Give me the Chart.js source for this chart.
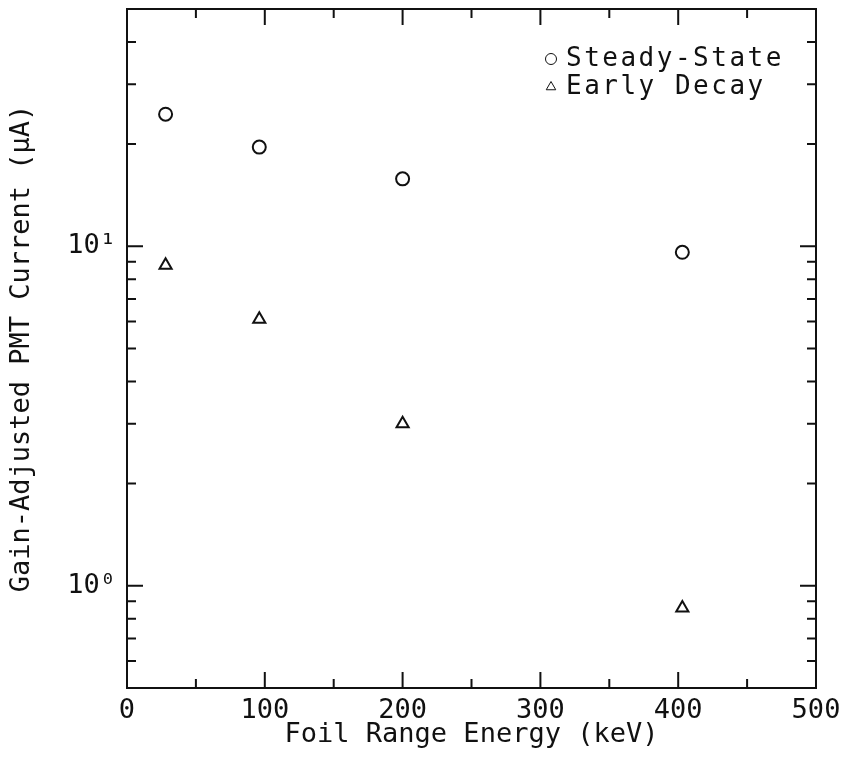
<!DOCTYPE html>
<html>
<head>
<meta charset="utf-8">
<script src="https://cdn.jsdelivr.net/npm/chart.js@4.4.0/dist/chart.umd.min.js"></script>
<style>
  html, body { margin: 0; padding: 0; background: #fff; }
  .chart-box { width: 842px; height: 761px; position: relative; }
</style>
</head>
<body>
<div class="chart-box">
  <canvas id="pmt-chart"></canvas>
</div>
<script>
// values
const energies = [28, 96, 200, 403];
const steadyState = [24.5, 19.6, 15.8, 9.6];
const earlyDecay = [8.8, 6.1, 3.0, 0.86];
const xTickValues = [0, 100, 200, 300, 400, 500];
const yTickValues = [1, 10];
const yTickLabels = ['10\u2070', '10\u00b9'];

const FONT = '"DejaVu Sans Mono", "Liberation Mono", monospace';
const INK = '#111';

const toPoints = (ys) => energies.map((x, i) => ({x: x, y: ys[i]}));

// frame with inward ticks on all four sides, like the original plot
const frameTicks = {
  id: 'frameTicks',
  afterDatasetsDraw(chart) {
    const {ctx, chartArea: a} = chart;
    const xs = chart.scales.x, ys = chart.scales.y;
    const major = 16, minor = 9;
    ctx.save();
    ctx.strokeStyle = INK;
    ctx.lineWidth = 2;
    ctx.strokeRect(a.left, a.top, a.right - a.left, a.bottom - a.top);

    const vTick = (v, len) => {
      const px = xs.getPixelForValue(v);
      ctx.moveTo(px, a.bottom); ctx.lineTo(px, a.bottom - len);
      ctx.moveTo(px, a.top); ctx.lineTo(px, a.top + len);
    };
    const hTick = (v, len) => {
      const py = ys.getPixelForValue(v);
      ctx.moveTo(a.left, py); ctx.lineTo(a.left + len, py);
      ctx.moveTo(a.right, py); ctx.lineTo(a.right - len, py);
    };

    ctx.beginPath();
    xTickValues.forEach((v, i) => {
      vTick(v, major);
      if (i > 0) vTick((v + xTickValues[i - 1]) / 2, minor);
    });
    for (let e = -1; e <= 1; e++) {
      for (let m = 1; m <= 9; m++) {
        const v = m * Math.pow(10, e);
        if (v <= ys.min || v >= ys.max) continue;
        hTick(v, m === 1 ? major : minor);
      }
    }
    ctx.stroke();
    ctx.restore();
  }
};

// legend drawn inside the top-right corner of the frame
const innerLegend = {
  id: 'innerLegend',
  afterDraw(chart) {
    const ctx = chart.ctx;
    const markerX = 551, textX = 566, rowY = 59, rowGap = 28;
    ctx.save();
    ctx.font = '26px ' + FONT;
    ctx.letterSpacing = '2.5px';
    ctx.textBaseline = 'middle';
    chart.data.datasets.forEach((ds, i) => {
      const y = rowY + i * rowGap;
      ctx.strokeStyle = INK;
      ctx.fillStyle = 'rgba(0,0,0,0)';
      Chart.helpers.drawPoint(ctx, {pointStyle: ds.pointStyle, radius: 5.5, borderWidth: 2, rotation: 0}, markerX, y);
      ctx.fillStyle = INK;
      ctx.fillText(ds.label, textX, y);
    });
    ctx.restore();
  }
};

const chart = new Chart(document.getElementById('pmt-chart'), {
  type: 'scatter',
  data: {
    datasets: [
      {
        label: 'Steady-State',
        data: toPoints(steadyState),
        pointStyle: 'circle',
        pointRadius: 6.5,
        borderColor: INK,
        backgroundColor: 'rgba(0,0,0,0)',
        borderWidth: 2,
      },
      {
        label: 'Early Decay',
        data: toPoints(earlyDecay),
        pointStyle: 'triangle',
        pointRadius: 7,
        borderColor: INK,
        backgroundColor: 'rgba(0,0,0,0)',
        borderWidth: 2,
      },
    ]
  },
  options: {
    responsive: true,
    maintainAspectRatio: false,
    animation: false,
    layout: {
      padding: {top: 6, right: 26, left: 0, bottom: 0}
    },
    plugins: {
      legend: {display: false},
      tooltip: {enabled: false},
    },
    scales: {
      x: {
        type: 'linear',
        min: 0,
        max: 500,
        grid: {display: false, drawTicks: false},
        border: {display: false},
        afterBuildTicks: (scale) => {
          scale.ticks = xTickValues.map(v => ({value: v}));
        },
        afterFit: (scale) => {
          scale.height = 73;
          scale.paddingLeft = 0;
          scale.paddingRight = 0;
        },
        ticks: {
          color: INK,
          padding: 7,
          maxRotation: 0,
          font: {family: FONT, size: 27},
        },
        title: {
          display: true,
          text: 'Foil Range Energy (keV)',
          color: INK,
          padding: {top: 0, bottom: 10},
          font: {family: FONT, size: 27},
        }
      },
      y: {
        type: 'logarithmic',
        min: 0.5,
        max: 50,
        grid: {display: false, drawTicks: false},
        border: {display: false},
        afterBuildTicks: (scale) => {
          scale.ticks = yTickValues.map(v => ({value: v}));
        },
        afterFit: (scale) => {
          scale.width = 127;
          scale.paddingTop = 0;
          scale.paddingBottom = 0;
        },
        ticks: {
          color: INK,
          padding: 11,
          callback: (value) => {
            const i = yTickValues.indexOf(value);
            return i >= 0 ? yTickLabels[i] : '';
          },
          font: {family: FONT, size: 27},
        },
        title: {
          display: true,
          text: 'Gain-Adjusted PMT Current (\u03bcA)',
          color: INK,
          padding: {top: 6, bottom: 0},
          font: {family: FONT, size: 27},
        }
      }
    }
  },
  plugins: [frameTicks, innerLegend]
});
</script>
</body>
</html>
